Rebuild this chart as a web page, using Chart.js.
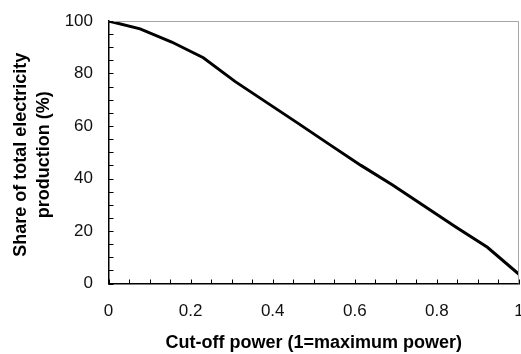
<!DOCTYPE html>
<html>
<head>
<meta charset="utf-8">
<script src="https://cdn.jsdelivr.net/npm/chart.js@4"></script>
<style>
  html, body { margin: 0; padding: 0; background: #fff; }
  #chart { display: block; }
</style>
</head>
<body>
<canvas id="chart" width="521" height="354"></canvas>
<script>
// values
const cutoff = [0, 0.077, 0.154, 0.231, 0.308, 0.385, 0.462, 0.538, 0.615, 0.692, 0.769, 0.846, 0.923, 1];
const share = [100, 97, 92, 86, 77, 69, 61, 53, 45, 37.5, 29.5, 21.5, 13.8, 3.5];

const xTitle = 'Cut-off power (1=maximum power)';
const yTitle = ['Share of total electricity ', 'production (%) '];

// inward tick marks + grey top/right frame
const frame = {
  id: 'frame',
  afterDatasetsDraw(chart) {
    const { ctx, chartArea: a, scales } = chart;
    ctx.save();
    ctx.strokeStyle = '#a6a6a6';
    ctx.lineWidth = 1;
    ctx.beginPath();
    ctx.moveTo(a.left, a.top + 0.5);
    ctx.lineTo(a.right - 0.5, a.top + 0.5);
    ctx.lineTo(a.right - 0.5, a.bottom);
    ctx.stroke();

    ctx.strokeStyle = '#000';
    ctx.beginPath();
    scales.x.ticks.forEach(t => {
      const px = Math.round(scales.x.getPixelForValue(t.value)) + 0.5;
      ctx.moveTo(px, a.bottom);
      ctx.lineTo(px, a.bottom - 4);
    });
    scales.y.ticks.forEach(t => {
      const py = Math.round(scales.y.getPixelForValue(t.value)) + 0.5;
      ctx.moveTo(a.left, py);
      ctx.lineTo(a.left + 5, py);
    });
    ctx.stroke();
    ctx.restore();
  }
};

function isMajor(v, step) {
  return Math.abs(v / step - Math.round(v / step)) < 1e-6;
}

new Chart(document.getElementById('chart'), {
  type: 'line',
  data: {
    datasets: [{
      data: cutoff.map((x, i) => ({ x: x, y: share[i] })),
      borderColor: '#000',
      borderWidth: 3,
      pointRadius: 0,
      tension: 0,
      fill: false
    }]
  },
  options: {
    responsive: false,
    animation: false,
    layout: { padding: { top: 21, right: 2, left: 0, bottom: 0 } },
    plugins: { legend: { display: false }, tooltip: { enabled: false } },
    scales: {
      x: {
        type: 'linear',
        min: 0, max: 1,
        grid: { display: false, drawTicks: false },
        border: { display: true, color: '#000', width: 1.5 },
        ticks: {
          stepSize: 0.05,
          autoSkip: false,
          maxRotation: 0,
          padding: 18,
          color: '#111',
          font: { family: 'Liberation Sans', size: 17 },
          callback: v => isMajor(v, 0.2) ? String(Math.round(v * 10) / 10) : ''
        },
        title: {
          display: true,
          text: xTitle,
          color: '#000',
          padding: { top: 0, bottom: 0 },
          font: { family: 'Liberation Sans', size: 18, weight: 'bold', lineHeight: 1.2 }
        },
        afterFit(scale) {
          scale.height = 70.5;
          scale.paddingLeft = 0;
          scale.paddingRight = 0;
        }
      },
      y: {
        min: 0, max: 100,
        grid: { display: false, drawTicks: false },
        border: { display: true, color: '#000', width: 1.5 },
        ticks: {
          stepSize: 5,
          autoSkip: false,
          padding: 15.5,
          color: '#111',
          font: { family: 'Liberation Sans', size: 17 },
          callback: v => isMajor(v, 20) ? String(v) : ''
        },
        title: {
          display: true,
          text: yTitle,
          color: '#000',
          padding: { top: 9.5, bottom: 0 },
          font: { family: 'Liberation Sans', size: 18, weight: 'bold', lineHeight: 1.28 }
        },
        afterFit(scale) {
          scale.width = 108.5;
          scale.paddingTop = 0;
          scale.paddingBottom = 0;
        }
      }
    }
  },
  plugins: [frame]
});
</script>
</body>
</html>
